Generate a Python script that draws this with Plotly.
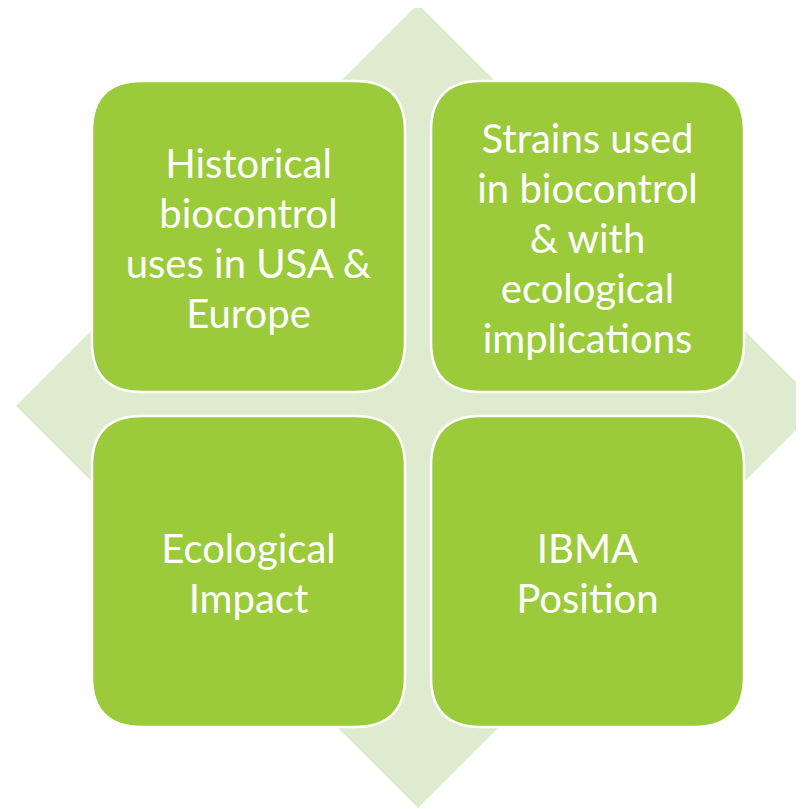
import plotly.graph_objects as go

# ---- data ----
labels = [
    ["Historical", "biocontrol", "uses in USA &amp;", "Europe"],
    ["Strains used", "in biocontrol", "&amp; with", "ecological", "implications"],
    ["Ecological", "Impact"],
    ["IBMA", "Position"],
]
rows = [0, 0, 1, 1]
cols = [0, 1, 0, 1]

# ---- styling / layout ----
W, H = 804, 809
OFF = 8  # page body margin
BOX_GREEN = "#9BCB3B"
DIAMOND = "#DEEBCF"
cx, cy, half = 418, 406, 402
box_x0 = [92, 431]
box_y0 = [81, 416]
box_w, box_h, r = 313, 311, 50
line_gap = 50
font_size = 40
text_dy = 6


def rounded_rect(x0, y0, x1, y1, r):
    return (f"M{x0+r},{y0} L{x1-r},{y0} Q{x1},{y0} {x1},{y0+r} "
            f"L{x1},{y1-r} Q{x1},{y1} {x1-r},{y1} L{x0+r},{y1} "
            f"Q{x0},{y1} {x0},{y1-r} L{x0},{y0+r} Q{x0},{y0} {x0+r},{y0} Z")


shapes = [dict(type="path", xref="x", yref="y",
               path=f"M{cx},{cy-half} L{cx+half},{cy} L{cx},{cy+half} L{cx-half},{cy} Z",
               fillcolor=DIAMOND, line=dict(width=0), layer="below")]

tx, ty, tt = [], [], []
for lines, rr, cc in zip(labels, rows, cols):
    x0 = box_x0[cc]
    y0 = box_y0[rr]
    x1, y1 = x0 + box_w, y0 + box_h
    shapes.append(dict(type="path", xref="x", yref="y",
                       path=rounded_rect(x0, y0, x1, y1, r),
                       fillcolor=BOX_GREEN, line=dict(color="white", width=2.5),
                       layer="below"))
    n = len(lines)
    for i, s in enumerate(lines):
        tx.append((x0 + x1) / 2)
        ty.append((y0 + y1) / 2 + text_dy + (i - (n - 1) / 2) * line_gap)
        tt.append(s)

fig = go.Figure()
fig.add_trace(go.Scatter(x=tx, y=ty, mode="text", text=tt,
                         textposition="middle center",
                         textfont=dict(family="Lato", size=font_size, color="white"),
                         hoverinfo="skip", showlegend=False))

fig.update_layout(
    width=W - OFF, height=H - OFF,
    margin=dict(l=0, r=0, t=0, b=0),
    paper_bgcolor="white", plot_bgcolor="white",
    shapes=shapes,
    xaxis=dict(range=[OFF, W], visible=False, fixedrange=True),
    yaxis=dict(range=[H, OFF], visible=False, fixedrange=True),
)

fig.write_html("out.html")
